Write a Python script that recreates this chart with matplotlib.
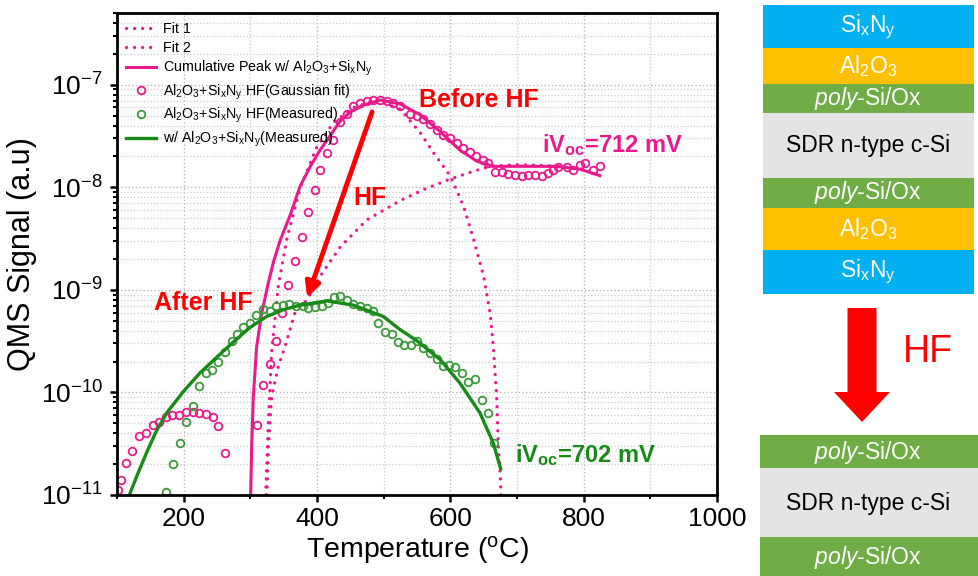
import numpy as np
import matplotlib.pyplot as plt
from matplotlib.ticker import LogLocator, MultipleLocator, NullFormatter, FixedLocator
from matplotlib.patches import Rectangle, FancyArrow

plt.rcParams['font.family'] = ['Liberation Sans', 'DejaVu Sans']
plt.rcParams['mathtext.fontset'] = 'custom'
plt.rcParams['mathtext.rm'] = 'Liberation Sans'
plt.rcParams['mathtext.it'] = 'Liberation Sans:italic'
plt.rcParams['mathtext.bf'] = 'Liberation Sans:bold'

PINK = '#ea1a8c'
GREEN = '#178a17'
GREEN_PT = '#3b9b3b'
RED = '#ff0000'

# ---- data ----
# Cumulative peak (solid pink)
cum_T = [300.5, 302, 304.5, 309.5, 317, 327, 335, 344.5, 360, 374.5, 390, 404.5, 420,
         434.5, 450, 469, 494.5, 524.5, 554.5, 584.5, 614.5, 639.5, 664.5, 714.5,
         759.5, 794.5, 824.5]
cum_S = [1.0e-11, 2.95e-11, 9.1e-11, 2.8e-10, 5.9e-10, 1.17e-9, 1.9e-9, 3.0e-9, 5.4e-9,
         1.02e-8, 1.6e-8, 2.3e-8, 3.2e-8, 4.4e-8, 5.4e-8, 6.3e-8, 7.1e-8, 6.5e-8, 5.1e-8,
         3.5e-8, 2.3e-8, 1.8e-8, 1.6e-8, 1.6e-8, 1.6e-8, 1.5e-8, 1.3e-8]

# Fit 1 (narrow peak, dotted)
fit1_T = [323, 327, 332, 342, 355, 375, 400, 425, 455, 490, 525, 555, 574, 600, 620,
          635, 650, 659.5, 664.5, 669.5, 672, 674.5, 676]
fit1_S = [1.0e-11, 5e-11, 2.5e-10, 1.1e-9, 3.2e-9, 1.0e-8, 2.5e-8, 4.3e-8, 6.0e-8, 7.1e-8,
          5.75e-8, 3.4e-8, 2.2e-8, 1.29e-8, 6.5e-9, 3.1e-9, 1.35e-9, 6.0e-10, 2.8e-10,
          9.1e-11, 2.95e-11, 1.9e-11, 1.0e-11]

# Fit 2 (broad peak, dotted)
fit2_T = [325, 327, 332, 342, 352, 367, 384.5, 404.5, 434.5, 474.5, 524.5, 560, 599.5,
          630, 659.5, 700, 750, 800, 825]
fit2_S = [1.0e-11, 2.95e-11, 9.1e-11, 1.8e-10, 2.8e-10, 6.0e-10, 7.9e-10, 1.35e-9, 2.6e-9,
          4.8e-9, 7.4e-9, 9.5e-9, 1.2e-8, 1.4e-8, 1.6e-8, 1.66e-8, 1.62e-8, 1.5e-8, 1.3e-8]

# Al2O3+SixNy HF (Gaussian fit) points, pink circles
gauss_T = [102, 105.5, 113.5, 123, 133, 143.5, 154.5, 163.5, 173, 183, 193, 203.5, 213.5,
           223.5, 233.5, 243.5, 252, 262,
           309.5, 319.5, 329.5, 338.5, 347, 357, 367, 377, 387, 397, 404.5, 414.5, 424.5,
           434.5, 444.5, 454.5, 464.5, 474.5, 484.5, 494.5, 504.5, 514.5, 524.5, 539.5,
           549.5, 559.5, 569.5, 579.5, 589.5, 599.5, 609.5, 619.5, 629.5, 638.5, 648.5,
           657, 667, 677, 687, 697, 707, 717, 727, 737, 747, 754.5, 762, 774.5, 784.5,
           794.5, 802, 814.5, 824.5]
gauss_S = [1.12e-11, 1.41e-11, 2.04e-11, 2.69e-11, 3.72e-11, 3.98e-11, 4.79e-11, 5.19e-11,
           5.75e-11, 6.03e-11, 6.03e-11, 6.46e-11, 6.46e-11, 6.31e-11, 6.17e-11, 5.75e-11,
           4.68e-11, 2.57e-11,
           4.8e-11, 1.17e-10, 1.9e-10, 3.2e-10, 5.9e-10, 1.12e-9, 1.9e-9, 3.3e-9, 5.8e-9,
           9.5e-9, 1.48e-8, 2.14e-8, 2.9e-8, 4.3e-8, 5.2e-8, 6.2e-8, 6.6e-8, 6.9e-8, 7.1e-8,
           7.1e-8, 6.9e-8, 6.6e-8, 6.2e-8, 5.2e-8, 4.9e-8, 4.6e-8, 4.1e-8, 3.6e-8, 3.2e-8,
           3.0e-8, 2.7e-8, 2.4e-8, 2.2e-8, 2.0e-8, 1.86e-8, 1.74e-8, 1.41e-8, 1.40e-8,
           1.35e-8, 1.32e-8, 1.29e-8, 1.32e-8, 1.32e-8, 1.29e-8, 1.38e-8, 1.48e-8, 1.58e-8,
           1.58e-8, 1.48e-8, 1.66e-8, 1.74e-8, 1.48e-8, 1.62e-8]

# Al2O3+SixNy HF (Measured) points, green circles
meas_T = [173.5, 183.5, 194.5, 203.5, 213.5, 223.5, 233.5, 242, 252, 262, 272, 280.5,
          289.5, 299.5, 308.5, 319.5, 329.5, 338.5, 348.5, 358.5, 368.5, 378.5, 387, 397,
          407, 417, 425.5, 434.5, 444.5, 454.5, 464.5, 474.5, 483.5, 492, 502, 512, 522,
          530.5, 540.5, 549.5, 559.5, 569.5, 579.5, 588.5, 598.5, 607, 617, 627, 637, 647,
          657, 666]
meas_S = [1.07e-11, 2.0e-11, 3.2e-11, 5.2e-11, 7.4e-11, 1.15e-10, 1.55e-10, 1.66e-10,
          2.0e-10, 2.5e-10, 3.2e-10, 3.7e-10, 4.3e-10, 4.8e-10, 5.75e-10, 6.5e-10, 6.2e-10,
          6.9e-10, 7.1e-10, 7.2e-10, 6.9e-10, 6.9e-10, 6.6e-10, 6.8e-10, 6.9e-10, 7.4e-10,
          8.5e-10, 8.7e-10, 7.9e-10, 7.2e-10, 6.9e-10, 6.6e-10, 6.2e-10, 4.8e-10, 3.9e-10,
          3.7e-10, 3.1e-10, 2.9e-10, 2.9e-10, 3.2e-10, 2.7e-10, 2.45e-10, 2.14e-10, 1.82e-10,
          1.86e-10, 1.78e-10, 1.55e-10, 1.26e-10, 1.35e-10, 8.5e-11, 6.3e-11, 3.2e-11]

# w/ Al2O3+SixNy (Measured) fitted curve, green solid
wm_T = [118.5, 131, 144.5, 159, 174.5, 199.5, 224.5, 249.5, 274.5, 299.5, 324.5, 349.5,
        374.5, 414.5, 454.5, 499.5, 524.5, 549.5, 584.5, 614.5, 644.5, 664.5, 675.5]
wm_S = [1.0e-11, 1.6e-11, 2.6e-11, 4.2e-11, 6.3e-11, 1.02e-10, 1.55e-10, 2.2e-10, 3.1e-10,
        4.3e-10, 5.5e-10, 6.4e-10, 7.1e-10, 7.8e-10, 7.1e-10, 5.5e-10, 4.1e-10, 3.2e-10,
        2.1e-10, 1.23e-10, 6.3e-11, 3.2e-11, 1.8e-11]

y_ticks = [1e-11, 1e-10, 1e-9, 1e-8, 1e-7]

SXNY = r'Si$_\mathrm{x}$N$_\mathrm{y}$'
ALO = r'Al$_\mathrm{2}$O$_\mathrm{3}$'

# layer stacks for the schematic (top to bottom)
stack_before = [SXNY, ALO, r'$\mathit{poly}$-Si/Ox', 'SDR n-type c-Si',
                r'$\mathit{poly}$-Si/Ox', ALO, SXNY]
stack_before_col = ['#00b0f0', '#ffc000', '#70ad47', '#e4e4e4', '#70ad47', '#ffc000', '#00b0f0']
stack_after = [r'$\mathit{poly}$-Si/Ox', 'SDR n-type c-Si', r'$\mathit{poly}$-Si/Ox']
stack_after_col = ['#70ad47', '#e4e4e4', '#70ad47']

fig = plt.figure(figsize=(9.79, 5.76), dpi=100)
ax = fig.add_axes([117 / 979, 81 / 576, 600 / 979, 482 / 576])

dot = (0, (0.01, 2.4))
ax.plot(fit1_T, fit1_S, color=PINK, lw=2.4, linestyle=dot, dash_capstyle='round', label='Fit 1')
ax.plot(fit2_T, fit2_S, color=PINK, lw=2.4, linestyle=dot, dash_capstyle='round', label='Fit 2')
ax.plot(cum_T, cum_S, color=PINK, lw=2.2, label='Cumulative Peak w/ ' + ALO + '+' + SXNY)
ax.plot(gauss_T, gauss_S, 'o', mfc='none', mec=PINK, mew=1.3, ms=5.5,
        label=ALO + '+' + SXNY + ' HF(Gaussian fit)')
ax.plot(meas_T, meas_S, 'o', mfc='none', mec=GREEN_PT, mew=1.3, ms=5.5,
        label=ALO + '+' + SXNY + ' HF(Measured)')
ax.plot(wm_T, wm_S, color=GREEN, lw=2.4, label='w/ ' + ALO + '+' + SXNY + '(Measured)')

ax.set_yscale('log')
ax.set_xlim(100, 1000)
ax.set_ylim(1e-11, 5e-7)
ax.xaxis.set_major_locator(MultipleLocator(200))
ax.xaxis.set_minor_locator(MultipleLocator(100))
ax.yaxis.set_major_locator(FixedLocator(y_ticks))
ax.yaxis.set_minor_locator(LogLocator(base=10, subs=np.arange(2, 10), numticks=20))
ax.yaxis.set_minor_formatter(NullFormatter())
ax.grid(which='major', color='#b8b8b8', linestyle=':', lw=1.0)
ax.grid(which='minor', color='#cccccc', linestyle=':', lw=0.9)
ax.set_axisbelow(True)
ax.tick_params(which='major', direction='out', length=5, width=1.8, labelsize=19)
ax.tick_params(axis='y', which='major', pad=5)
ax.tick_params(which='minor', direction='out', length=3, width=1.4)
for s in ax.spines.values():
    s.set_linewidth(2.0)
ax.set_xlabel(r'Temperature ($^\mathrm{o}$C)', fontsize=20.5, labelpad=2)
ax.set_ylabel('QMS Signal (a.u)', fontsize=22, labelpad=3)

ax.legend(loc='upper left', frameon=False, fontsize=10.3, handlelength=2.1,
          handletextpad=0.5, labelspacing=0.3, borderaxespad=0.45, borderpad=0.2)

# annotations
ax.text(643, 7.1e-8, 'Before HF', color=RED, fontsize=18, fontweight='bold',
        ha='center', va='center')
ax.text(480, 7.9e-9, 'HF', color=RED, fontsize=18, fontweight='bold', ha='center', va='center')
ax.text(229, 7.4e-10, 'After HF', color=RED, fontsize=18, fontweight='bold',
        ha='center', va='center')
ax.text(737, 2.6e-8, r'iV$_\mathbf{oc}$=712 mV', color=PINK, fontsize=17, fontweight='bold',
        ha='left', va='center')
ax.text(697, 2.45e-11, r'iV$_\mathbf{oc}$=702 mV', color=GREEN, fontsize=17, fontweight='bold',
        ha='left', va='center')
ax.annotate('', xy=(384, 7.9e-10), xytext=(484, 5.75e-8),
            arrowprops=dict(arrowstyle='-|>', color=RED, lw=3.5, mutation_scale=22))

# schematic on the right, drawn in pixel coordinates
sk = fig.add_axes([0, 0, 1, 1], zorder=-1)
sk.set_xlim(0, 979)
sk.set_ylim(576, 0)
sk.axis('off')

edges_before = [5, 48, 84, 113, 178, 208, 250, 294]
for i, (name, col) in enumerate(zip(stack_before, stack_before_col)):
    y0, y1 = edges_before[i], edges_before[i + 1]
    sk.add_patch(Rectangle((763, y0), 211, y1 - y0, color=col, lw=0))
    tc = 'black' if col == '#e4e4e4' else 'white'
    sk.text(868, (y0 + y1) / 2, name, color=tc, fontsize=16.5, ha='center', va='center')

edges_after = [435, 468, 537, 576]
for i, (name, col) in enumerate(zip(stack_after, stack_after_col)):
    y0, y1 = edges_after[i], edges_after[i + 1]
    sk.add_patch(Rectangle((760, y0), 219, y1 - y0, color=col, lw=0))
    tc = 'black' if col == '#e4e4e4' else 'white'
    sk.text(868, (y0 + y1) / 2 + 1, name, color=tc, fontsize=16.5, ha='center', va='center')

sk.add_patch(FancyArrow(862, 308, 0, 114, width=29, head_width=56, head_length=30,
                        length_includes_head=True, color=RED, lw=0))
sk.text(928, 352, 'HF', color=RED, fontsize=27, ha='center', va='center')

fig.savefig('out.png', dpi=100)
